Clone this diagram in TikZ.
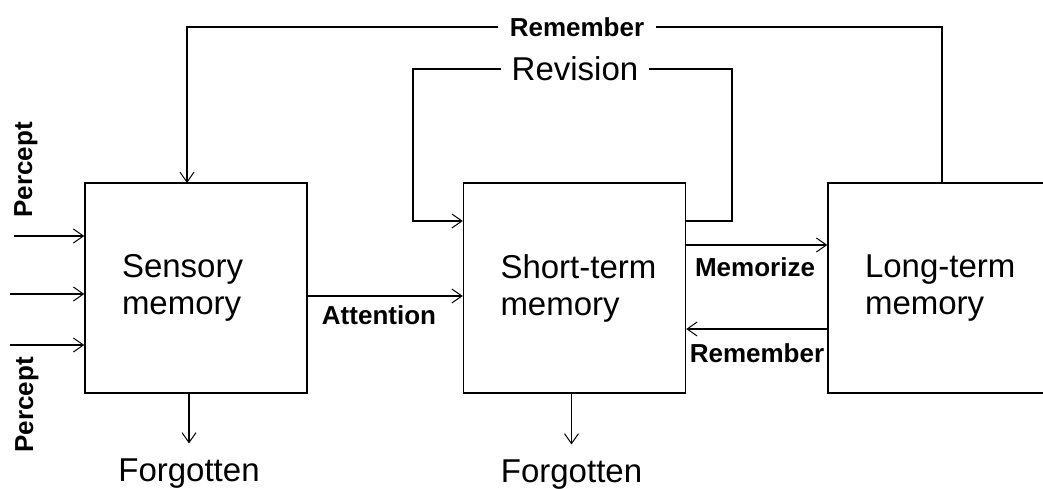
\documentclass[tikz,border=0pt]{standalone}
\usepackage{xcolor}
\usepackage{fontspec}
\setmainfont{Liberation Sans}
\usetikzlibrary{arrows.meta}

\tikzset{
    memory/.style={draw, minimum width=222pt, minimum height=210pt,
        text width=148pt, inner xsep=37pt, align=left,
        font=\fontsize{33}{37}\selectfont},
    lbl/.style={font=\bfseries\fontsize{26}{28}\selectfont, inner sep=0pt},
    big/.style={font=\fontsize{33}{37}\selectfont, inner sep=0pt},
    arr/.style={-{Straight Barb[length=10pt, width=14pt, line width=1pt]}},
}

\begin{document}
\begin{tikzpicture}[x=1pt, y=-1pt, line width=1.5pt]
    \useasboundingbox (0,0) rectangle (1043,489);
    \node[memory] (sens) at (196,288) {Sensory\\memory};
    \node[memory] (stm) at (574.5,288) {\mbox{Short-term}\\memory};
    \node[memory, minimum width=228pt, text width=154pt] (ltm) at (942,288) {\mbox{Long-term}\\memory};

    \node[lbl, inner xsep=11pt] (remtop) at (577,27) {Remember};
    \node[big, inner xsep=10pt] (rev) at (575,69) {Revision};
    \node[lbl] (att) at (379,315) {Attention};
    \node[lbl] (mem) at (755,267) {Memorize};
    \node[lbl] (rem) at (757,353) {Remember};
    \node[lbl, rotate=90] (pc1) at (26,170) {Percept};
    \node[lbl, rotate=90] (pc2) at (27,405) {Percept};
    \node[big] (fg1) at (189,474) {Forgotten};
    \node[big] (fg2) at (571.5,475) {Forgotten};

    \coordinate (in1) at (14,236);
    \coordinate (in2) at (10,294);
    \coordinate (in3) at (10,345);
    \coordinate (remL) at (187,183);
    \coordinate (revL) at (413,221);
    \coordinate (revR) at (732,221);

    \draw[arr] (in1) -- (in1 -| sens.west);
    \draw[arr] (in2) -- (in2 -| sens.west);
    \draw[arr] (in3) -- (in3 -| sens.west);

    \draw (ltm.north) |- (remtop.east);
    \draw[arr] (remtop.west) -| (remL);

    \draw (stm.east |- revR) -- (revR) |- (rev.east);
    \draw[arr] (rev.west) -| (revL) -- (revL -| stm.west);

    \draw[arr] ([yshift=-8pt]sens.east) -- ([yshift=-8pt]stm.west);
    \draw[arr] ([yshift=43pt]stm.east) -- ([yshift=43pt]stm.east -| ltm.west);
    \draw[arr] ([yshift=-41pt]stm.east -| ltm.west) -- ([yshift=-41pt]stm.east);

    \draw[arr] (fg1 |- sens.south) -- ([yshift=15pt]fg1.north);
    \draw[arr] (fg2 |- stm.south) -- ([yshift=15pt]fg2.north);
\end{tikzpicture}
\end{document}
